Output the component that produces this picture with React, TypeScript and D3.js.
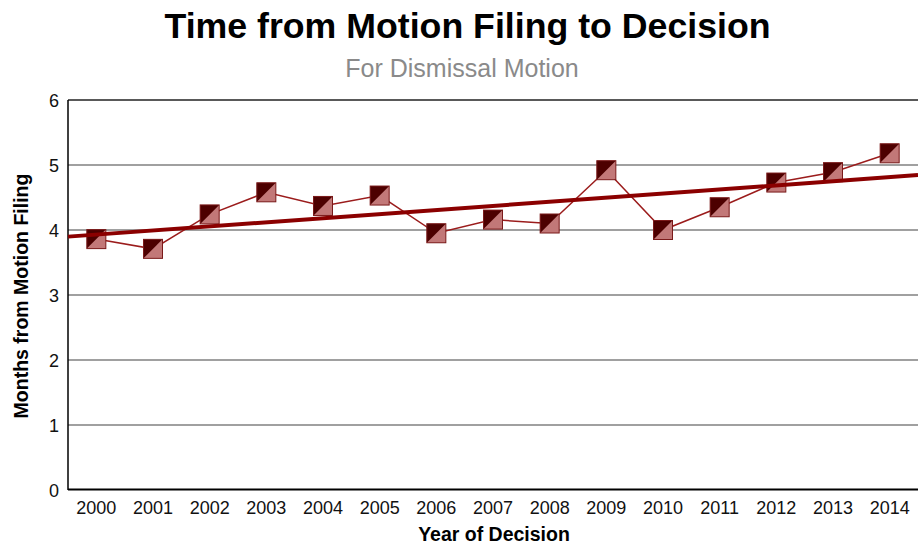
import React from "react";
import * as d3 from "d3";

const years = ["2000","2001","2002","2003","2004","2005","2006","2007","2008","2009","2010","2011","2012","2013","2014"];
const months = [3.86, 3.71, 4.24, 4.58, 4.37, 4.53, 3.95, 4.16, 4.10, 4.92, 4.0, 4.35, 4.73, 4.89, 5.18];
const yTicks = [0, 1, 2, 3, 4, 5, 6];

const W = 918, H = 546;
const M = { left: 68, right: 918, top: 100, bottom: 490 };

export default function App() {
  const x = d3.scaleBand<string>().domain(years).range([M.left, M.right]).padding(0);
  const y = d3.scaleLinear().domain([0, 6]).range([M.bottom, M.top]);
  const cx = (yr: string) => (x(yr) as number) + x.bandwidth() / 2;

  // linear regression trend over category index
  const n = months.length;
  const mx = d3.mean(months.map((_, i) => i)) as number;
  const my = d3.mean(months) as number;
  const sxy = d3.sum(months.map((v, i) => (i - mx) * (v - my)));
  const sxx = d3.sum(months.map((_, i) => (i - mx) * (i - mx)));
  const slope = sxy / sxx;
  const trend = (idx: number) => my + slope * (idx - mx);
  const idx0 = -0.5, idx1 = n - 0.5;

  const line = d3.line<number>().x((_, i) => cx(years[i])).y((v) => y(v));
  const s = 9.5;

  return (
    <svg width={W} height={H} style={{ position: "absolute", left: 0, top: 0, fontFamily: "'Liberation Sans', Arial, sans-serif" }}>
      <rect x={0} y={0} width={W} height={H} fill="#fff" />
      <text x={467.5} y={38} textAnchor="middle" fontSize={35.7} fontWeight="bold" fill="#000">Time from Motion Filing to Decision</text>
      <text x={462} y={77} textAnchor="middle" fontSize={25} fill="#8a8a8a">For Dismissal Motion</text>

      {yTicks.map((t) => (
        <g key={t}>
          {t > 0 && (
            <line x1={M.left} x2={M.right} y1={y(t)} y2={y(t)} stroke={t === 6 ? "#222" : "#808080"} strokeWidth={t === 6 ? 1.5 : 1.3} />
          )}
          <text x={59} y={y(t) + 6.5} textAnchor="end" fontSize={18} fill="#111">{t}</text>
        </g>
      ))}

      <line x1={M.left} x2={M.left} y1={M.top} y2={M.bottom} stroke="#000" strokeWidth={1.5} />
      <line x1={M.left} x2={M.right} y1={M.bottom - 0.5} y2={M.bottom - 0.5} stroke="#000" strokeWidth={2} />

      {years.map((yr) => (
        <text key={yr} x={cx(yr)} y={514} textAnchor="middle" fontSize={18} fill="#111">{yr}</text>
      ))}

      <text x={494} y={541} textAnchor="middle" fontSize={19.5} fontWeight="bold" fill="#000">Year of Decision</text>
      <text transform={`translate(28,${(M.top + M.bottom) / 2 + 1}) rotate(-90)`} textAnchor="middle" fontSize={19.5} fontWeight="bold" fill="#000">Months from Motion Filing</text>

      <path d={line(months) || ""} fill="none" stroke="#9b1c1c" strokeWidth={1.5} />

      {months.map((v, i) => {
        const px = cx(years[i]);
        const py = y(v);
        return (
          <g key={i}>
            <rect x={px - s} y={py - s} width={2 * s} height={2 * s} fill="#c27878" />
            <path d={`M${px - s},${py - s}L${px + s},${py - s}L${px - s},${py + s}Z`} fill="#4d0000" />
            <rect x={px - s} y={py - s} width={2 * s} height={2 * s} fill="none" stroke="#7a1a1a" strokeWidth={1} />
          </g>
        );
      })}

      <line x1={M.left} x2={M.right} y1={y(trend(idx0))} y2={y(trend(idx1))} stroke="#8b0000" strokeWidth={4} />
    </svg>
  );
}
